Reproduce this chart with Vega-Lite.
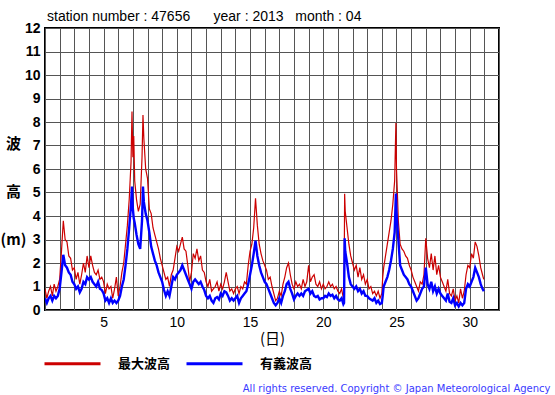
{
  "$schema": "https://vega.github.io/schema/vega-lite/v6.json",
  "width": 454,
  "height": 282,
  "autosize": {"type": "none"},
  "padding": {"left": 45, "top": 28, "right": 56, "bottom": 85},
  "background": "white",
  "config": {
    "view": {"stroke": "black", "strokeWidth": 2},
    "font": "Liberation Sans"
  },
  "title": {
    "text": "station number : 47656\u00a0\u00a0\u00a0\u00a0\u00a0\u00a0year : 2013\u00a0\u00a0\u00a0month : 04",
    "anchor": "start",
    "frame": "group",
    "font": "Liberation Sans",
    "fontSize": 14,
    "fontWeight": "normal",
    "color": "black",
    "offset": 2,
    "dx": 2,
    "dy": 5
  },
  "data": {
    "values": [
      {"t":1.0,"r":0.9,"b":0.5},{"t":1.125,"r":0.5,"b":0.3},{"t":1.25,"r":0.8,"b":0.5},{"t":1.375,"r":1.0,"b":0.6},
      {"t":1.5,"r":0.6,"b":0.4},{"t":1.625,"r":1.1,"b":0.6},{"t":1.75,"r":0.8,"b":0.5},{"t":1.875,"r":1.0,"b":0.6},
      {"t":2.0,"r":1.3,"b":0.9},{"t":2.125,"r":2.5,"b":1.6},{"t":2.25,"r":3.8,"b":2.35},{"t":2.375,"r":3.0,"b":1.9},
      {"t":2.5,"r":2.9,"b":1.8},{"t":2.625,"r":2.3,"b":1.6},{"t":2.75,"r":2.2,"b":1.5},{"t":2.875,"r":1.7,"b":1.2},
      {"t":3.0,"r":1.8,"b":1.1},{"t":3.125,"r":1.3,"b":0.9},{"t":3.25,"r":1.6,"b":1.0},{"t":3.375,"r":1.1,"b":0.75},
      {"t":3.5,"r":1.5,"b":0.9},{"t":3.625,"r":2.0,"b":1.2},{"t":3.75,"r":1.6,"b":1.1},{"t":3.875,"r":2.3,"b":1.4},
      {"t":4.0,"r":1.8,"b":1.3},{"t":4.125,"r":2.3,"b":1.4},{"t":4.25,"r":1.9,"b":1.2},{"t":4.375,"r":1.6,"b":1.1},
      {"t":4.5,"r":1.5,"b":1.0},{"t":4.625,"r":1.7,"b":1.2},{"t":4.75,"r":1.3,"b":0.9},{"t":4.875,"r":1.4,"b":0.85},
      {"t":5.0,"r":1.2,"b":0.7},{"t":5.125,"r":0.7,"b":0.4},{"t":5.25,"r":1.1,"b":0.5},{"t":5.375,"r":0.9,"b":0.3},
      {"t":5.5,"r":1.0,"b":0.5},{"t":5.625,"r":0.5,"b":0.3},{"t":5.75,"r":0.9,"b":0.4},{"t":5.875,"r":1.4,"b":0.3},
      {"t":6.0,"r":0.6,"b":0.4},{"t":6.125,"r":1.0,"b":0.6},{"t":6.25,"r":1.6,"b":1.0},{"t":6.375,"r":2.0,"b":1.3},
      {"t":6.5,"r":2.8,"b":1.9},{"t":6.625,"r":3.6,"b":2.6},{"t":6.75,"r":4.7,"b":3.5},{"t":6.875,"r":6.3,"b":4.5},
      {"t":6.94,"r":8.45,"b":5.25},{"t":7.0,"r":6.5,"b":4.3},{"t":7.06,"r":7.4,"b":3.9},{"t":7.125,"r":5.5,"b":3.7},
      {"t":7.25,"r":4.7,"b":3.2},{"t":7.375,"r":4.2,"b":2.8},{"t":7.5,"r":4.5,"b":2.6},{"t":7.625,"r":6.5,"b":3.8},
      {"t":7.69,"r":8.3,"b":5.25},{"t":7.75,"r":7.3,"b":4.6},{"t":7.875,"r":6.0,"b":4.1},
      {"t":8.0,"r":5.6,"b":3.8},{"t":8.125,"r":4.3,"b":3.3},{"t":8.25,"r":4.1,"b":2.7},{"t":8.375,"r":3.5,"b":2.4},
      {"t":8.5,"r":3.2,"b":2.1},{"t":8.625,"r":2.9,"b":1.9},{"t":8.75,"r":2.6,"b":1.6},{"t":8.875,"r":2.2,"b":1.4},
      {"t":9.0,"r":1.9,"b":1.2},{"t":9.125,"r":1.6,"b":0.85},{"t":9.25,"r":1.3,"b":0.6},{"t":9.375,"r":1.4,"b":0.8},
      {"t":9.5,"r":1.0,"b":0.6},{"t":9.625,"r":1.5,"b":1.0},{"t":9.75,"r":1.7,"b":1.4},{"t":9.875,"r":2.2,"b":1.3},
      {"t":10.0,"r":2.7,"b":1.5},{"t":10.125,"r":2.5,"b":1.6},{"t":10.25,"r":2.8,"b":1.7},{"t":10.375,"r":3.1,"b":1.9},
      {"t":10.5,"r":2.6,"b":1.7},{"t":10.625,"r":2.5,"b":1.5},{"t":10.75,"r":1.9,"b":1.3},{"t":10.875,"r":1.2,"b":1.1},
      {"t":11.0,"r":1.6,"b":0.9},{"t":11.125,"r":2.4,"b":1.2},{"t":11.25,"r":2.2,"b":1.3},{"t":11.375,"r":2.6,"b":1.2},
      {"t":11.5,"r":2.1,"b":1.1},{"t":11.625,"r":2.3,"b":1.2},{"t":11.75,"r":1.7,"b":1.0},{"t":11.875,"r":1.6,"b":0.85},
      {"t":12.0,"r":1.2,"b":0.6},{"t":12.125,"r":1.0,"b":0.5},{"t":12.25,"r":1.3,"b":0.6},{"t":12.375,"r":0.8,"b":0.4},
      {"t":12.5,"r":0.9,"b":0.3},{"t":12.625,"r":1.0,"b":0.5},{"t":12.75,"r":1.2,"b":0.55},{"t":12.875,"r":0.8,"b":0.45},
      {"t":13.0,"r":1.1,"b":0.7},{"t":13.125,"r":0.9,"b":0.6},{"t":13.25,"r":1.2,"b":0.8},{"t":13.375,"r":1.6,"b":0.75},
      {"t":13.5,"r":1.2,"b":0.6},{"t":13.625,"r":0.8,"b":0.4},{"t":13.75,"r":0.9,"b":0.5},{"t":13.875,"r":0.7,"b":0.4},
      {"t":14.0,"r":0.9,"b":0.5},{"t":14.125,"r":1.0,"b":0.6},{"t":14.25,"r":0.7,"b":0.3},{"t":14.375,"r":1.0,"b":0.5},
      {"t":14.5,"r":0.9,"b":0.6},{"t":14.625,"r":1.2,"b":0.7},{"t":14.75,"r":1.1,"b":0.8},{"t":14.875,"r":1.9,"b":1.1},
      {"t":15.0,"r":2.5,"b":1.5},{"t":15.125,"r":2.8,"b":1.9},{"t":15.25,"r":3.5,"b":2.4},{"t":15.375,"r":4.75,"b":2.95},
      {"t":15.5,"r":3.6,"b":2.3},{"t":15.625,"r":2.8,"b":1.9},{"t":15.75,"r":2.4,"b":1.6},{"t":15.875,"r":2.1,"b":1.4},
      {"t":16.0,"r":1.9,"b":1.2},{"t":16.125,"r":1.7,"b":1.1},{"t":16.25,"r":1.3,"b":0.9},{"t":16.375,"r":1.4,"b":0.7},
      {"t":16.5,"r":1.0,"b":0.5},{"t":16.625,"r":0.7,"b":0.3},{"t":16.75,"r":0.4,"b":0.2},{"t":16.875,"r":0.5,"b":0.3},
      {"t":17.0,"r":0.8,"b":0.5},{"t":17.125,"r":0.6,"b":0.3},{"t":17.25,"r":1.1,"b":0.6},{"t":17.375,"r":1.4,"b":0.8},
      {"t":17.5,"r":1.8,"b":1.1},{"t":17.625,"r":2.0,"b":1.2},{"t":17.75,"r":1.5,"b":0.9},{"t":17.875,"r":1.1,"b":0.7},
      {"t":18.0,"r":0.9,"b":0.45},{"t":18.125,"r":1.2,"b":0.6},{"t":18.25,"r":1.0,"b":0.7},{"t":18.375,"r":1.1,"b":0.6},
      {"t":18.5,"r":0.9,"b":0.7},{"t":18.625,"r":1.3,"b":0.6},{"t":18.75,"r":1.0,"b":0.8},{"t":18.875,"r":1.2,"b":0.85},
      {"t":19.0,"r":1.9,"b":0.9},{"t":19.125,"r":1.2,"b":0.7},{"t":19.25,"r":1.4,"b":0.8},{"t":19.375,"r":1.5,"b":0.6},
      {"t":19.5,"r":1.1,"b":0.55},{"t":19.625,"r":1.0,"b":0.6},{"t":19.75,"r":1.2,"b":0.45},{"t":19.875,"r":0.9,"b":0.5},
      {"t":20.0,"r":1.1,"b":0.5},{"t":20.125,"r":0.9,"b":0.6},{"t":20.25,"r":1.0,"b":0.55},{"t":20.375,"r":1.2,"b":0.7},
      {"t":20.5,"r":1.0,"b":0.6},{"t":20.625,"r":1.1,"b":0.65},{"t":20.75,"r":0.9,"b":0.5},{"t":20.875,"r":1.0,"b":0.6},
      {"t":21.0,"r":0.8,"b":0.45},{"t":21.125,"r":0.7,"b":0.4},{"t":21.25,"r":0.9,"b":0.5},{"t":21.375,"r":0.5,"b":0.25},
      {"t":21.42,"r":0.6,"b":0.3},{"t":21.46,"r":4.95,"b":3.05},{"t":21.5,"r":4.2,"b":2.5},{"t":21.625,"r":3.5,"b":2.0},
      {"t":21.75,"r":2.8,"b":1.4},{"t":21.875,"r":2.3,"b":1.1},
      {"t":22.0,"r":2.0,"b":1.0},{"t":22.125,"r":1.7,"b":0.9},{"t":22.25,"r":1.9,"b":1.0},{"t":22.375,"r":1.4,"b":0.8},
      {"t":22.5,"r":1.8,"b":0.9},{"t":22.625,"r":1.3,"b":0.7},{"t":22.75,"r":1.5,"b":0.8},{"t":22.875,"r":1.1,"b":0.6},
      {"t":23.0,"r":1.3,"b":0.6},{"t":23.125,"r":0.9,"b":0.5},{"t":23.25,"r":1.0,"b":0.45},{"t":23.375,"r":0.7,"b":0.4},
      {"t":23.5,"r":0.8,"b":0.5},{"t":23.625,"r":0.6,"b":0.3},{"t":23.75,"r":0.8,"b":0.4},{"t":23.875,"r":0.5,"b":0.25},
      {"t":24.0,"r":0.7,"b":0.3},{"t":24.06,"r":1.4,"b":0.6},{"t":24.125,"r":1.8,"b":1.0},{"t":24.25,"r":2.3,"b":1.2},
      {"t":24.375,"r":2.8,"b":1.4},{"t":24.5,"r":3.3,"b":1.7},{"t":24.625,"r":3.8,"b":2.1},{"t":24.75,"r":4.5,"b":2.6},
      {"t":24.875,"r":5.5,"b":3.3},{"t":24.96,"r":7.96,"b":4.96},
      {"t":25.0,"r":6.0,"b":4.2},{"t":25.06,"r":5.0,"b":3.6},{"t":25.125,"r":3.8,"b":3.0},{"t":25.25,"r":2.8,"b":1.9},
      {"t":25.375,"r":2.6,"b":1.7},{"t":25.5,"r":2.5,"b":1.5},{"t":25.625,"r":2.3,"b":1.4},{"t":25.75,"r":2.2,"b":1.3},
      {"t":25.875,"r":1.9,"b":1.1},
      {"t":26.0,"r":1.7,"b":1.0},{"t":26.125,"r":1.4,"b":0.8},{"t":26.25,"r":1.2,"b":0.6},{"t":26.375,"r":1.0,"b":0.4},
      {"t":26.5,"r":0.8,"b":0.5},{"t":26.625,"r":1.2,"b":0.7},{"t":26.75,"r":1.1,"b":0.9},{"t":26.875,"r":1.5,"b":1.0},
      {"t":27.0,"r":3.05,"b":1.8},{"t":27.125,"r":2.2,"b":1.1},{"t":27.25,"r":1.8,"b":0.9},{"t":27.375,"r":2.4,"b":1.2},
      {"t":27.5,"r":1.7,"b":0.8},{"t":27.625,"r":2.3,"b":1.0},{"t":27.75,"r":1.5,"b":0.7},{"t":27.875,"r":1.9,"b":0.9},
      {"t":28.0,"r":1.4,"b":0.7},{"t":28.125,"r":1.2,"b":0.6},{"t":28.25,"r":1.0,"b":0.5},{"t":28.375,"r":0.8,"b":0.4},
      {"t":28.5,"r":1.3,"b":0.7},{"t":28.625,"r":0.7,"b":0.35},{"t":28.75,"r":0.6,"b":0.3},{"t":28.875,"r":0.9,"b":0.5},
      {"t":29.0,"r":0.4,"b":0.2},{"t":29.125,"r":0.6,"b":0.3},{"t":29.25,"r":0.3,"b":0.15},{"t":29.375,"r":0.9,"b":0.3},
      {"t":29.5,"r":0.5,"b":0.2},{"t":29.625,"r":0.8,"b":0.3},{"t":29.75,"r":1.5,"b":0.9},{"t":29.875,"r":1.9,"b":1.1},
      {"t":30.0,"r":1.8,"b":1.0},{"t":30.125,"r":2.4,"b":1.2},{"t":30.25,"r":2.2,"b":1.4},{"t":30.375,"r":2.9,"b":1.8},
      {"t":30.5,"r":2.7,"b":1.6},{"t":30.625,"r":2.3,"b":1.4},{"t":30.75,"r":1.8,"b":1.1},{"t":30.875,"r":1.5,"b":0.9},
      {"t":30.96,"r":1.3,"b":0.8}
    ]
  },
  "transform": [
    {"fold": ["r", "b"], "as": ["k", "v"]}
  ],
  "layer": [
    {
      "encoding": {
        "x": {
          "field": "t", "type": "quantitative",
          "scale": {"domain": [1, 32], "nice": false, "zero": false},
          "axis": {
            "values": [1,2,3,4,5,6,7,8,9,10,11,12,13,14,15,16,17,18,19,20,21,22,23,24,25,26,27,28,29,30,31,32],
            "labelExpr": "datum.value % 5 === 0 ? datum.label : ''",
            "grid": true, "gridColor": "#555555", "gridWidth": 1, "gridOpacity": 1,
            "ticks": false, "domain": false,
            "labelFont": "Liberation Sans", "labelFontSize": 14, "labelColor": "black", "labelPadding": 5,
            "title": "(日)", "titleFont": "Noto Sans CJK JP", "titleFontSize": 15, "titleFontWeight": "normal",
            "titleColor": "black", "titlePadding": 2
          }
        },
        "y": {
          "field": "v", "type": "quantitative",
          "scale": {"domain": [0, 12], "nice": false},
          "axis": {
            "values": [0,1,2,3,4,5,6,7,8,9,10,11,12],
            "grid": true, "gridColor": "#555555", "gridWidth": 1, "gridOpacity": 1,
            "ticks": false, "domain": false,
            "labelFont": "Liberation Sans", "labelFontSize": 14, "labelFontWeight": "bold", "labelColor": "black", "labelPadding": 5,
            "title": ["波", "高", "(m)"],
            "titleAngle": 0, "titleAlign": "center", "titleBaseline": "middle",
            "titleX": -32, "titleY": 115, "titleLineHeight": 48,
            "titleFont": "Noto Sans CJK JP", "titleFontSize": 15, "titleFontWeight": "bold", "titleColor": "black"
          }
        },
        "color": {
          "field": "k", "type": "nominal",
          "scale": {"domain": ["r", "b"], "range": ["#cc0000", "#0000ff"]},
          "legend": {
            "orient": "none", "legendX": -2, "legendY": 306, "direction": "horizontal",
            "title": null, "symbolType": "stroke", "symbolSize": 3136, "symbolStrokeWidth": 3,
            "labelExpr": "datum.value === 'r' ? '最大波高' : '有義波高'",
            "labelFont": "Noto Sans CJK JP", "labelFontSize": 13, "labelFontWeight": "bold", "labelColor": "black",
            "labelOffset": 16, "columnPadding": 9, "padding": 0
          }
        }
      },
      "layer": [
        {
          "transform": [{"filter": "datum.k === 'r'"}],
          "mark": {"type": "line", "clip": true, "strokeWidth": 1.2}
        },
        {
          "transform": [{"filter": "datum.k === 'b'"}],
          "mark": {"type": "line", "clip": true, "strokeWidth": 2.4}
        }
      ]
    },
    {
      "mark": {"type": "rule", "opacity": 0},
      "encoding": {
        "x": {
          "field": "t", "type": "quantitative",
          "scale": {"domain": [1, 32], "nice": false, "zero": false},
          "axis": {
            "orient": "bottom", "labels": false, "ticks": false, "domain": false, "grid": false,
            "title": "All rights reserved. Copyright © Japan Meteorological Agency",
            "titleFont": "DejaVu Sans", "titleFontSize": 10, "titleFontWeight": "normal", "titleColor": "#3a3aff",
            "titleAlign": "right", "titleAnchor": "end", "titleBaseline": "middle",
            "titleX": 505, "titleY": 78
          }
        },
        "y": {"value": 0},
        "color": {"value": "white"}
      }
    }
  ],
  "resolve": {"axis": {"x": "independent"}}
}
